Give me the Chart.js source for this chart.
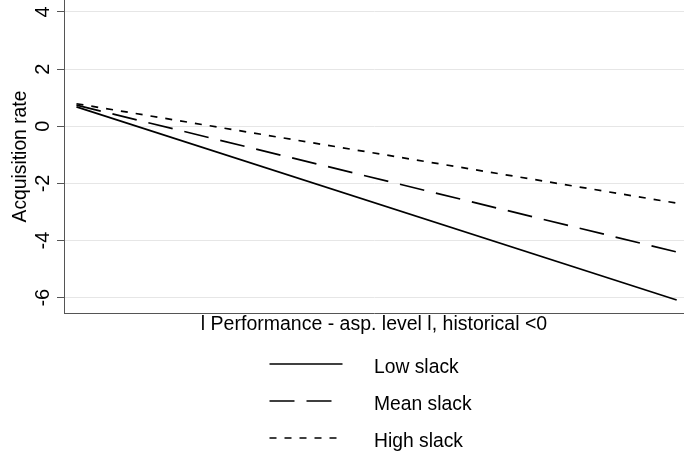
<!DOCTYPE html>
<html>
<head>
<meta charset="utf-8">
<title>Acquisition rate by slack</title>
<script src="https://cdn.jsdelivr.net/npm/chart.js@4/dist/chart.umd.min.js"></script>
<style>
    html, body { margin: 0; padding: 0; background: #fff; }
    #wrap { width: 684px; height: 456px; }
</style>
</head>
<body>
<div id="wrap"><canvas id="chart"></canvas></div>
<script>
(function () {
    // data (two ends of each fitted line)
    var xValues = [0, 1];
    var lowSlack = [0.68, -6.08];
    var meanSlack = [0.74, -4.40];
    var highSlack = [0.79, -2.69];
    var seriesLabels = ['Low slack', 'Mean slack', 'High slack'];
    var yTicks = [-6, -4, -2, 0, 2, 4];
    var xTitle = 'l Performance - asp. level l, historical <0';
    var yTitle = 'Acquisition rate';

    var FONT = '"Liberation Sans", Arial, Helvetica, sans-serif';
    var dashes = [[], [25, 12], [7, 8]];

    function toPoints(ys) {
        return xValues.map(function (x, i) {
            return { x: x, y: ys[i] };
        });
    }

    // rotated y tick labels, Stata style
    var yTickLabels = {
        id: 'yTickLabels',
        afterDraw: function (chart) {
            var ctx = chart.ctx;
            var y = chart.scales.y;
            ctx.save();
            ctx.font = '20px ' + FONT;
            ctx.fillStyle = '#000';
            ctx.textAlign = 'center';
            ctx.textBaseline = 'alphabetic';
            yTicks.forEach(function (v) {
                ctx.save();
                ctx.translate(y.right - 15, y.getPixelForValue(v));
                ctx.rotate(-Math.PI / 2);
                ctx.fillText(String(v), 0, 0);
                ctx.restore();
            });
            ctx.restore();
        }
    };

    // single column legend under the plot
    var stataLegend = {
        id: 'stataLegend',
        afterDraw: function (chart) {
            var ctx = chart.ctx;
            chart.data.datasets.forEach(function (ds, i) {
                var rowY = 364 + i * 37;
                ctx.save();
                ctx.strokeStyle = ds.borderColor;
                ctx.lineWidth = ds.borderWidth;
                ctx.setLineDash(ds.borderDash);
                ctx.beginPath();
                ctx.moveTo(269.5, rowY);
                ctx.lineTo(342.5, rowY);
                ctx.stroke();
                ctx.setLineDash([]);
                ctx.font = '19.3px ' + FONT;
                ctx.fillStyle = '#000';
                ctx.textAlign = 'left';
                ctx.textBaseline = 'alphabetic';
                ctx.fillText(ds.label, 374, rowY + 8.7);
                ctx.restore();
            });
        }
    };

    var series = [lowSlack, meanSlack, highSlack];
    var datasets = series.map(function (ys, i) {
        return {
            label: seriesLabels[i],
            data: toPoints(ys),
            borderColor: '#000',
            borderWidth: 1.7,
            borderDash: dashes[i],
            pointRadius: 0,
            fill: false,
            tension: 0
        };
    });

    new Chart(document.getElementById('chart'), {
        type: 'line',
        data: { datasets: datasets },
        plugins: [yTickLabels, stataLegend],
        options: {
            responsive: true,
            maintainAspectRatio: false,
            animation: false,
            layout: { padding: { top: 0, left: 0, right: 0, bottom: 117 } },
            plugins: {
                legend: { display: false },
                tooltip: { enabled: false }
            },
            scales: {
                x: {
                    type: 'linear',
                    min: -0.0208,
                    max: 1.0122,
                    grid: { display: false },
                    border: { display: true, color: '#555', width: 1 },
                    ticks: { display: false },
                    title: {
                        display: true,
                        text: xTitle,
                        color: '#000',
                        font: { family: FONT, size: 19.5 },
                        padding: { top: 0, bottom: 3 }
                    },
                    afterFit: function (scale) { scale.height = 26; }
                },
                y: {
                    type: 'linear',
                    min: -6.535,
                    max: 4.42,
                    afterBuildTicks: function (scale) {
                        scale.ticks = yTicks.map(function (v) { return { value: v }; });
                    },
                    grid: {
                        color: '#e6e6e6',
                        lineWidth: 1,
                        drawTicks: true,
                        tickLength: 7,
                        tickColor: '#555',
                        tickWidth: 1
                    },
                    border: { display: true, color: '#555', width: 1 },
                    ticks: { display: false },
                    title: {
                        display: true,
                        text: yTitle,
                        color: '#000',
                        font: { family: FONT, size: 19.3 },
                        padding: { top: 8.6, bottom: 0 }
                    },
                    afterFit: function (scale) { scale.width = 64; }
                }
            }
        }
    });
})();
</script>
</body>
</html>
